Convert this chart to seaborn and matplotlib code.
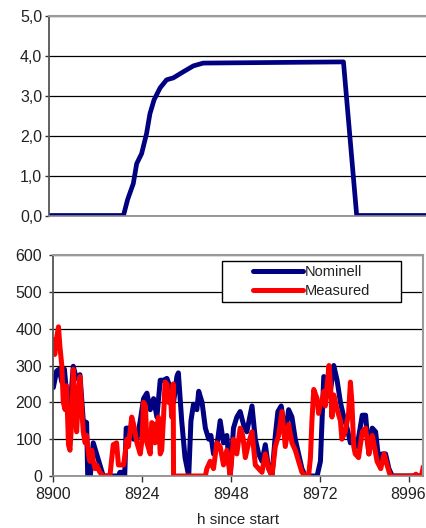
import matplotlib
matplotlib.use("Agg")
import matplotlib.pyplot as plt
import seaborn as sns
import pandas as pd
from matplotlib.patches import Rectangle

# ---------------- data ----------------
top_hours = [8900, 8919.7, 8920.8, 8922.3, 8923.2, 8924.5, 8925.8, 8926.7, 8927.8,
             8929.4, 8931.1, 8932.9, 8935.5, 8938.2, 8940.8, 8977.9, 8981.4, 9000]
top_vals = [0, 0, 0.4, 0.8, 1.3, 1.55, 2.05, 2.55, 2.9,
            3.2, 3.4, 3.45, 3.6, 3.75, 3.82, 3.85, 0, 0]
top_yticks = [0, 1, 2, 3, 4, 5]
top_yticklabels = ["0,0", "1,0", "2,0", "3,0", "4,0", "5,0"]

nom_hours = [8900, 8900.9, 8901.6, 8902.3, 8903.0, 8903.8, 8904.5, 8905.4, 8906.2, 8907.2,
             8908.1, 8909.0, 8909.3, 8910.0, 8910.8, 8911.7, 8912.6, 8913.5, 8917.6, 8918.0,
             8918.8, 8919.3, 8919.7, 8920.8, 8921.7, 8922.6, 8923.5, 8924.4, 8925.3, 8926.2,
             8927.1, 8928.0, 8928.9, 8929.8, 8930.7, 8931.6, 8932.5, 8933.4, 8933.8, 8934.7,
             8935.6, 8936.6, 8937.2, 8937.9, 8938.8, 8939.3, 8940.2, 8941.1, 8942.0, 8942.6,
             8943.3, 8944.2, 8945.1, 8946.0, 8946.9, 8947.8, 8948.7, 8949.6, 8950.5, 8951.4,
             8952.3, 8953.7, 8954.6, 8955.5, 8956.4, 8957.3, 8958.2, 8959.1, 8960.0, 8960.7,
             8961.6, 8962.7, 8963.6, 8964.5, 8965.4, 8966.3, 8967.2, 8968.1, 8971.3, 8972.2,
             8973.1, 8974.0, 8974.9, 8975.8, 8976.7, 8977.6, 8978.5, 8979.4, 8980.3, 8981.2,
             8982.1, 8983.5, 8984.4, 8985.3, 8986.2, 8987.1, 8988.0, 8988.9, 8989.8, 8990.7,
             8991.6, 9000]
nom_vals = [240, 285, 290, 255, 290, 200, 180, 298, 265, 275,
            150, 145, 0, 0, 90, 60, 30, 0, 0, 10,
            10, 0, 130, 130, 100, 100, 150, 210, 225, 180,
            210, 160, 260, 260, 265, 240, 200, 270, 280, 150,
            50, 0, 150, 195, 180, 230, 200, 130, 100, 110,
            60, 80, 150, 90, 110, 0, 130, 160, 175, 140,
            120, 190, 100, 60, 40, 85, 20, 0, 110, 175,
            190, 110, 180, 160, 100, 60, 20, 0, 0, 40,
            270, 260, 230, 300, 260, 200, 160, 130, 90, 100,
            80, 165, 165, 60, 130, 120, 40, 60, 60, 20,
            0, 0]

meas_hours = [8900, 8900.4, 8900.9, 8901.4, 8901.8, 8902.3, 8902.7, 8903.2, 8903.6, 8904.1,
              8904.5, 8905.0, 8905.4, 8905.9, 8906.3, 8906.8, 8907.2, 8907.7, 8908.1, 8908.6,
              8909.0, 8909.5, 8909.9, 8910.4, 8910.8, 8911.3, 8911.7, 8912.6, 8913.5, 8915.3,
              8916.2, 8917.1, 8917.6, 8918.0, 8919.0, 8919.4, 8919.9, 8920.3, 8921.2, 8921.7,
              8922.6, 8923.5, 8924.0, 8924.4, 8924.9, 8925.3, 8926.2, 8926.6, 8927.1, 8927.5,
              8928.0, 8928.4, 8928.9, 8929.3, 8929.8, 8930.2, 8930.7, 8931.1, 8931.6, 8932.0,
              8932.4, 8932.5, 8941.1, 8941.5, 8942.4, 8943.3, 8944.2, 8945.1, 8946.0, 8946.9,
              8947.8, 8948.7, 8949.6, 8950.5, 8951.2, 8951.9, 8952.8, 8953.7, 8954.6, 8955.5,
              8956.4, 8957.3, 8958.2, 8959.1, 8960.0, 8960.9, 8961.8, 8962.7, 8963.6, 8964.5,
              8965.4, 8966.3, 8967.2, 8968.1, 8969.0, 8969.5, 8969.9, 8970.4, 8971.3, 8971.7,
              8972.2, 8972.6, 8973.1, 8973.5, 8974.5, 8974.9, 8975.3, 8975.8, 8976.7, 8977.6,
              8978.0, 8978.9, 8979.8, 8980.3, 8980.7, 8981.2, 8981.6, 8982.5, 8983.5, 8984.4,
              8985.3, 8986.2, 8986.6, 8987.5, 8988.5, 8989.4, 8990.2, 8991.1, 8997.5, 8998.0,
              8998.4, 8999.5, 9000]
meas_vals = [370, 330, 375, 405, 350, 300, 200, 180, 245, 85,
             70, 150, 290, 200, 120, 220, 270, 180, 120, 90,
             110, 60, 40, 70, 40, 20, 30, 10, 0, 0,
             85, 90, 30, 30, 30, 60, 100, 80, 160, 140,
             90, 60, 100, 200, 190, 90, 60, 145, 140, 90,
             130, 160, 60, 70, 160, 255, 250, 200, 230, 160,
             250, 0, 0, 20, 40, 20, 90, 80, 30, 70,
             0, 100, 60, 130, 110, 50, 90, 120, 30, 20,
             10, 60, 20, 0, 80, 110, 175, 80, 140, 90,
             70, 40, 10, 0, 0, 50, 150, 235, 210, 170,
             200, 200, 230, 190, 300, 250, 160, 220, 180, 150,
             100, 120, 170, 255, 200, 80, 60, 50, 120, 130,
             60, 110, 90, 40, 20, 60, 30, 0, 0, 5,
             0, 0, 25]

bottom_yticks = [0, 100, 200, 300, 400, 500, 600]
bottom_xticks = [8900, 8924, 8948, 8972, 8996]
series_names = ["Nominell", "Measured"]
x_label = "h since start"

# ---------------- style ----------------
sns.set_theme(style="white")
plt.rcParams["font.family"] = ["Liberation Sans", "DejaVu Sans"]

NAVY = "#000080"
RED = "#FF0000"
TXT = "#222222"
LW_TOP = 3.4
LW_BOT = 3.6

W, H = 427, 528
fig = plt.figure(figsize=(W / 100, H / 100), dpi=100)
fig.patch.set_facecolor("white")

ax1 = fig.add_axes([49 / W, 1 - 215.5 / H, (427 - 49) / W, (215.5 - 16) / H])
ax2 = fig.add_axes([53.3 / W, 1 - 476 / H, (423.3 - 53.3) / W, (476 - 255) / H])

# top panel
df_top = pd.DataFrame({"h": top_hours, "v": top_vals})
sns.lineplot(data=df_top, x="h", y="v", ax=ax1, color=NAVY, linewidth=LW_TOP,
             estimator=None, sort=False)
ax1.set_xlim(8900, 9000)
ax1.set_ylim(0, 5)
ax1.set_yticks(top_yticks)
ax1.set_yticklabels(top_yticklabels)
ax1.set_xticks([])
ax1.set_xlabel("")
ax1.set_ylabel("")

# bottom panel
df_nom = pd.DataFrame({"h": nom_hours, "v": nom_vals})
df_meas = pd.DataFrame({"h": meas_hours, "v": meas_vals})
sns.lineplot(data=df_nom, x="h", y="v", ax=ax2, color=NAVY, linewidth=LW_BOT,
             estimator=None, sort=False, label=series_names[0])
sns.lineplot(data=df_meas, x="h", y="v", ax=ax2, color=RED, linewidth=LW_BOT,
             estimator=None, sort=False, label=series_names[1])
ax2.set_xlim(8900, 9000)
ax2.set_ylim(0, 600)
ax2.set_yticks(bottom_yticks)
ax2.set_xticks(bottom_xticks)
ax2.set_xticklabels([str(t) for t in bottom_xticks])
ax2.set_ylabel("")
ax2.set_xlabel(x_label, fontsize=11, color=TXT, labelpad=8)

for ax in (ax1, ax2):
    ax.set_facecolor("white")
    ax.grid(False)
    ax.yaxis.grid(True, color="black", linewidth=0.9)
    ax.set_axisbelow(True)
    ax.spines["left"].set_color("#555555")
    ax.spines["left"].set_linewidth(1.3)
    ax.spines["top"].set_color("#9a9a9a")
    ax.spines["top"].set_linewidth(1.5)
    ax.spines["bottom"].set_color("#888888")
    ax.spines["bottom"].set_linewidth(1.2)
    ax.tick_params(axis="y", direction="out", length=3, width=1, color="#333333",
                   labelsize=11.5, labelcolor=TXT, left=True)

ax1.spines["right"].set_visible(False)
ax2.spines["right"].set_color("#9a9a9a")
ax2.spines["right"].set_linewidth(1.5)
ax1.tick_params(axis="y", pad=1.8)
ax2.tick_params(axis="y", pad=5)
ax2.tick_params(axis="x", direction="out", length=4, width=1, color="#333333",
                labelsize=11.5, labelcolor=TXT, bottom=True, pad=4)

# legend box
bx, by, bw, bh = 0.4555, 0.787, 0.485, 0.186
ax2.add_patch(Rectangle((bx, by), bw, bh, transform=ax2.transAxes, facecolor="white",
                        edgecolor="black", linewidth=1.0, zorder=5, clip_on=False))
leg = ax2.legend(loc="center", bbox_to_anchor=(bx + bw / 2, by + bh / 2), frameon=False,
                 fontsize=10.5, handlelength=3.4, handletextpad=0.15, labelspacing=0.35,
                 borderpad=0.0)
for t in leg.get_texts():
    t.set_color(TXT)
for l in leg.get_lines():
    l.set_linewidth(LW_BOT)
leg.set_zorder(6)

fig.savefig("out.png", dpi=100, facecolor="white")
